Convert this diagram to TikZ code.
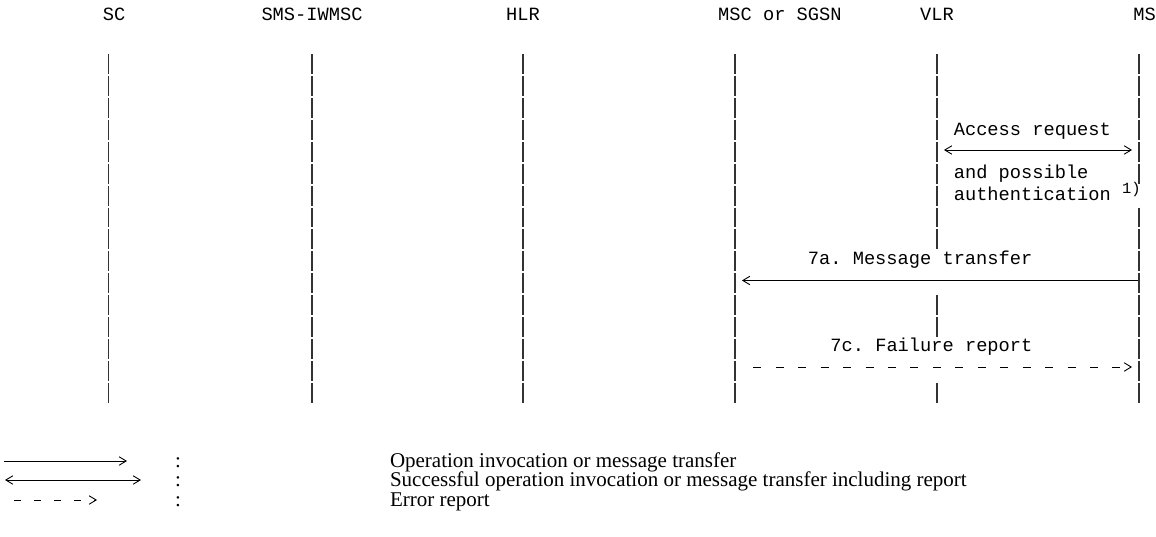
\documentclass[tikz,border=0pt]{standalone}
\usepackage{fontspec}
\setmainfont{Liberation Serif}
\setmonofont{Liberation Mono}
\usetikzlibrary{arrows.meta}

\begin{document}
\begin{tikzpicture}[x=1pt,y=-1pt,
  mono/.style={font=\fontsize{18.7}{18.7}\selectfont\ttfamily, inner sep=0pt, outer sep=0pt, anchor=base west},
  supnote/.style={font=\fontsize{15.5}{15.5}\selectfont\ttfamily, inner sep=0pt, outer sep=0pt, anchor=base west},
  legtext/.style={font=\fontsize{21}{21}\selectfont\rmfamily, inner sep=0pt, outer sep=0pt, anchor=base west},
  lifeseg/.style={line width=1.1pt, black!80},
  msgline/.style={line width=0.9pt, black},
  barb/.tip={Straight Barb[length=7pt,width=8.5pt]},
  dashedmsg/.style={msgline, dash pattern=on 8pt off 14.44pt},
]
\useasboundingbox (0,0) rectangle (1156,537);

% header labels
\node[mono] (sc)   at (102.9,20.5) {SC};
\node[mono] (iw)   at (261.5,20.5) {SMS-IWMSC};
\node[mono] (hlr)  at (506.2,20.5) {HLR};
\node[mono] (msc)  at (718.2,20.5) {MSC or SGSN};
\node[mono] (vlr)  at (920.2,20.5) {VLR};
\node[mono] (ms)   at (1133.4,20.5) {MS};

% lifelines (one segment per text row)
\foreach \x in {108.5,312,523,735}{
  \foreach \r in {1,...,16}{
    \draw[lifeseg] (\x,{53.5+21.9*(\r-1)+0.8}) -- (\x,{53.5+21.9*\r-1.2});
  }
}
\foreach \r in {1,...,9,12,13,16}{
  \draw[lifeseg] (937,{53.5+21.9*(\r-1)+0.8}) -- (937,{53.5+21.9*\r-1.2});
}
\foreach \r in {1,...,6,8,9,...,16}{
  \draw[lifeseg] (1139,{53.5+21.9*(\r-1)+0.8}) -- (1139,{53.5+21.9*\r-1.2});
}

% Access request
\node[mono] (acc)  at (953.8,135.5) {Access request};
\coordinate (a1) at (944,150);
\coordinate (a2) at (1132,150);
\draw[msgline, barb-barb] (a1) -- (a2);
\node[mono] (poss) at (953.8,178.5) {and possible};
\node[mono] (auth) at (953.8,200.5) {authentication};
\node[supnote] (note) at (1122,194) {1)};

% 7a Message transfer
\node[mono] (m7a) at (807.9,264.5) {7a. Message transfer};
\coordinate (b1) at (1138,280.5);
\coordinate (b2) at (742,280.5);
\draw[msgline, -barb] (b1) -- (b2);

% 7c Failure report
\node[mono] (m7c) at (830.4,351.5) {7c. Failure report};
\coordinate (c1) at (753.4,367);
\coordinate (c2) at (1132,367);
\draw[dashedmsg, -barb] (c1) -- (c2);

% legend
\coordinate (l1a) at (4,461);
\coordinate (l1b) at (127,461);
\draw[msgline, -barb] (l1a) -- (l1b);
\node[legtext] (k1) at (175,467) {:};
\node[legtext] (t1) at (390,467) {Operation invocation or message transfer};

\coordinate (l2a) at (5,480);
\coordinate (l2b) at (141,480);
\draw[msgline, barb-barb] (l2a) -- (l2b);
\node[legtext] (k2) at (175,486) {:};
\node[legtext] (t2) at (390,486) {Successful operation invocation or message transfer including report};

\coordinate (l3a) at (14,500);
\coordinate (l3b) at (97,500);
\draw[msgline, dash pattern=on 7pt off 13pt, -barb] (l3a) -- (l3b);
\node[legtext] (k3) at (175,506) {:};
\node[legtext] (t3) at (390,506) {Error report};
\end{tikzpicture}
\end{document}
